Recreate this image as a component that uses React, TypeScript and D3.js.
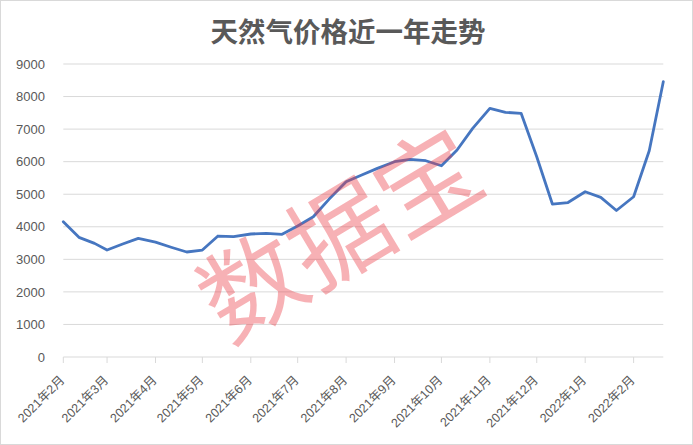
import React from "react";
import * as d3 from "d3";

const TITLE = "天然气价格近一年走势";
const WATERMARK = "数据宝";

const dates: string[] = [
  "2021-02-01", "2021-02-11", "2021-02-21",
  "2021-03-01", "2021-03-11", "2021-03-21",
  "2021-04-01", "2021-04-11", "2021-04-21",
  "2021-05-01", "2021-05-11", "2021-05-21",
  "2021-06-01", "2021-06-11", "2021-06-21",
  "2021-07-01", "2021-07-11", "2021-07-21",
  "2021-08-01", "2021-08-11", "2021-08-21",
  "2021-09-01", "2021-09-11", "2021-09-21",
  "2021-10-01", "2021-10-11", "2021-10-21",
  "2021-11-01", "2021-11-11", "2021-11-21",
  "2021-12-01", "2021-12-11", "2021-12-21",
  "2022-01-01", "2022-01-11", "2022-01-21",
  "2022-02-01", "2022-02-11", "2022-02-20",
];

const prices: number[] = [
  4155, 3676, 3490,
  3286, 3470, 3645,
  3530, 3372, 3225,
  3286, 3716, 3695,
  3778, 3800, 3768,
  4023, 4309, 4843,
  5384, 5590, 5795,
  5998, 6072, 6029,
  5875, 6357, 7024,
  7638, 7515, 7485,
  6150, 4699, 4745,
  5077, 4905, 4500,
  4923, 6336, 8455,
];

const yTicks: number[] = [0, 1000, 2000, 3000, 4000, 5000, 6000, 7000, 8000, 9000];

const monthTicks: string[] = [
  "2021-02-01", "2021-03-01", "2021-04-01", "2021-05-01", "2021-06-01", "2021-07-01",
  "2021-08-01", "2021-09-01", "2021-10-01", "2021-11-01", "2021-12-01", "2022-01-01", "2022-02-01",
];

const W = 693;
const H = 445;
const M = { left: 63.3, right: 663.3, top: 64, bottom: 357 };

const parse = d3.timeParse("%Y-%m-%d");

export default function App() {
  const data = dates.map((d, i) => ({ date: parse(d) as Date, value: prices[i] }));
  const x = d3
    .scaleTime()
    .domain(d3.extent(data, (d) => d.date) as [Date, Date])
    .range([M.left, M.right]);
  const y = d3.scaleLinear().domain([0, 9000]).range([M.bottom, M.top]);
  const line = d3
    .line<{ date: Date; value: number }>()
    .x((d) => x(d.date))
    .y((d) => y(d.value));

  const labelFmt = (d: Date) => `${d.getFullYear()}年${d.getMonth() + 1}月`;
  const font = "'Liberation Sans', Arial, 'Noto Sans CJK SC', sans-serif";

  return (
    <svg
      width={W}
      height={H}
      style={{ position: "absolute", left: 0, top: 0, background: "#fff" }}
    >
      <rect x={0.5} y={0.5} width={W - 1} height={H - 1} fill="#fff" stroke="#d9d9d9" />
      <text
        x={348}
        y={30}
        textAnchor="middle"
        dominantBaseline="central"
        fontFamily="'Noto Sans CJK SC', sans-serif"
        fontSize={27.5}
        fontWeight={700}
        fill="#595959"
      >
        {TITLE}
      </text>
      {yTicks.map((t) => (
        <g key={t}>
          {t > 0 && (
            <line x1={M.left} x2={M.right} y1={y(t)} y2={y(t)} stroke="#d9d9d9" strokeWidth={1} />
          )}
          <text
            x={45}
            y={y(t)}
            dy="0.36em"
            textAnchor="end"
            fontFamily={font}
            fontSize={13}
            fill="#595959"
          >
            {t}
          </text>
        </g>
      ))}
      <line x1={M.left} x2={M.right} y1={M.bottom} y2={M.bottom} stroke="#d9d9d9" strokeWidth={1} />
      {monthTicks.map((s) => {
        const d = parse(s) as Date;
        const xp = x(d);
        return (
          <g key={s}>
            <line x1={xp} x2={xp} y1={M.bottom} y2={M.bottom + 6} stroke="#d9d9d9" strokeWidth={1} />
            <text
              transform={`translate(${xp + 2},${M.bottom + 24}) rotate(-45)`}
              textAnchor="end"
              fontFamily={font}
              fontSize={12.5}
              fill="#595959"
            >
              {labelFmt(d)}
            </text>
          </g>
        );
      })}
      <path
        d={line(data) || ""}
        fill="none"
        stroke="#4676c0"
        strokeWidth={2.8}
        strokeLinejoin="round"
        strokeLinecap="round"
      />
      <text
        transform="translate(336,228) rotate(-31)"
        textAnchor="middle"
        dominantBaseline="central"
        fontFamily="'Noto Sans CJK SC', sans-serif"
        fontSize={102}
        fill="rgb(235,60,70)"
        fillOpacity={0.4}
      >
        {WATERMARK}
      </text>
    </svg>
  );
}
